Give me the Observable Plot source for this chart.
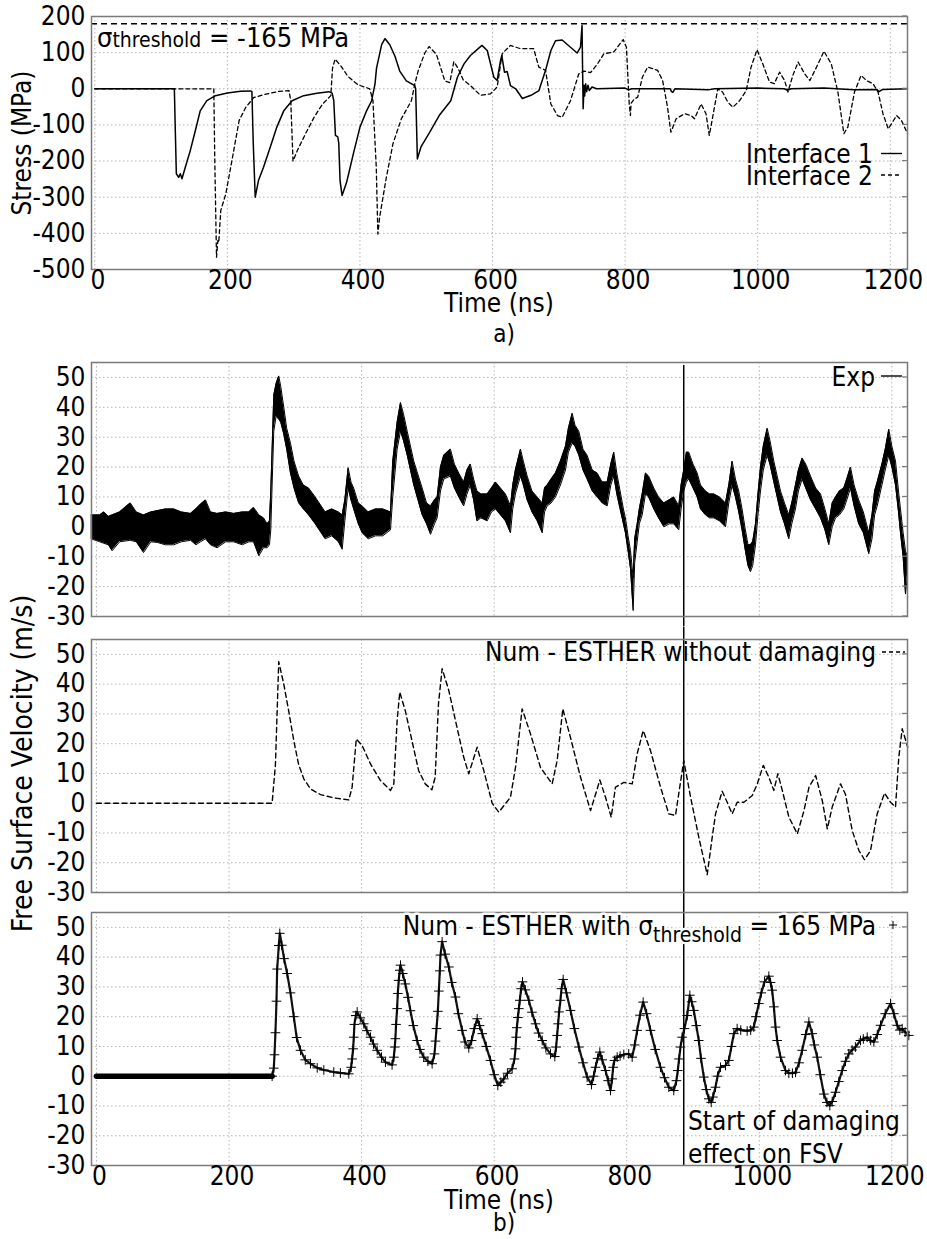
<!DOCTYPE html>
<html><head><meta charset="utf-8">
<script src="https://cdn.jsdelivr.net/npm/d3@7"></script>
<script src="https://cdn.jsdelivr.net/npm/@observablehq/plot@0.6"></script>
<style>
body{margin:0;background:#fff}
#root{position:relative;width:927px;height:1239px;background:#fff;overflow:hidden}
#root svg{position:absolute;left:0;overflow:visible}
</style></head><body><div id="root"></div>
<script>
const FONT = '"DejaVu Sans Condensed","DejaVu Sans",sans-serif';

// ---------- data ----------
const timeTicks = [0, 200, 400, 600, 800, 1000, 1200];
const stressTicks = [-500, -400, -300, -200, -100, 0, 100, 200];
const fsvTicks = [-30, -20, -10, 0, 10, 20, 30, 40, 50];
const thresholdLine = 180;      // MPa, dashed reference at top of panel a
const damageStart = 886;        // ns, vertical line in panel b

// Interface 1 stress [t (ns), MPa]
const interface1 = [[0,0],[120,0],[121.5,-120],[123,-235],[126.5,-245],[129,-235],[131.5,-249],[136.5,-217],[144,-171],[151.6,-116],[159,-61],[169,-33],[182,-19],[200,-11.5],[220,-7],[235,-6],[237,-8],[239,-150],[242,-300],[247,-253],[254.5,-217],[264.6,-162],[274.6,-106],[285,-61],[297.6,-33],[315,-19],[335,-12.5],[353,-8],[358,-12],[360.5,-33],[363,-129],[366.5,-133],[368,-150],[370,-255],[373,-295],[380,-258],[390,-180],[400,-106],[410,-61],[417.6,-33],[422.6,12],[425,57],[432.7,122],[437.7,139],[445,122],[452.8,90],[460,49],[470,22],[482.6,9],[484,0],[486.6,-194],[492,-161],[504,-124],[519.5,-74],[537,-33],[547,32],[557,69],[566.6,92],[584,120],[592,106],[602,32],[607,23],[612,78],[614,92],[618,46],[622,48],[627,9],[635,0],[645,-27],[658,-18],[670,-5],[680,51],[688,106],[695,133],[705,135],[717.6,115],[727.6,99],[732.7,115],[735,175],[735.8,60],[736.7,-55],[738,10],[739,-20],[740.5,14],[742,-8],[744,10],[746,-5],[750,5],[757,0],[800,2],[805,-3],[810,0],[868,0],[870,-8],[872,-10],[875,0],[925,-3],[935,0],[1000,2],[1040,0],[1045,-4],[1050,0],[1100,2],[1145,-3],[1180,-2],[1183,-8],[1188,-2],[1226,0]];

// Interface 2 stress [t (ns), MPa]
const interface2 = [[0,0],[179.5,0],[181,-200],[183.6,-466],[185.6,-420],[187,-425],[190,-337],[197.6,-291],[207.7,-190],[217.7,-88],[227.8,-51],[240,-24],[258,-15],[278,-7],[293,-5],[295.6,-33],[299,-200],[305.7,-170],[318,-124],[331,-78],[343.6,-42],[356,-19],[358.6,57],[362.5,82],[371.7,62],[381.8,34],[397,11],[414.7,0],[419.6,-33],[424.6,-217],[427,-402],[429.7,-355],[439.8,-245],[449.8,-152],[462.4,-83],[477.6,-33],[482.6,12],[487.7,49],[497.8,99],[504.3,117],[515.4,95],[528,22],[535.5,17],[541.6,75],[548,57],[555.6,25],[566.6,9],[581.7,-18],[596.8,-14],[607,5],[614.5,97],[627,120],[642,111],[662,111],[669.8,60],[680,51],[688,-42],[698,-74],[705,-79],[717.6,-33],[730,41],[737.8,49],[748,45],[758,68],[768,97],[783,102],[797,136],[802,115],[806.2,-42],[808,-74],[809,-40],[814,-28],[819,-23],[826,32],[834,60],[849,51],[856.6,23],[864,-51],[869,-120],[877,-83],[889.6,-69],[899.6,-74],[904.6,-83],[914.7,-42],[922,-69],[927,-129],[932,-79],[939.8,0],[947,-9],[955,-37],[962.6,-51],[972.7,-33],[982.7,-5],[990,60],[999,108],[1007.7,69],[1017.7,19],[1025,14],[1033,46],[1040.6,23],[1045.6,-9],[1053,37],[1061,74],[1071,41],[1078.8,23],[1088.8,60],[1100,104],[1111,69],[1121,-9],[1130,-124],[1136,-106],[1146,-9],[1156,37],[1164,23],[1174,14],[1181.6,-9],[1189,-69],[1197,-111],[1209.6,-74],[1217,-88],[1226,-124]];

// Experimental FSV noise envelope [t (ns), low, high] (m/s)
const expEnvelope = [[-8,-4,4],[5,-5,4],[11,-5.5,5],[18,-6,3.5],[23.6,-8,4],[35,-5,5],[51,-4.5,8],[60,-5,5],[71,-8.6,4],[82,-5,5],[91.5,-5.2,5.4],[104,-6,6],[116.6,-6,6],[128,-5,5],[142,-4.5,4.5],[150,-6,6],[157,-5,7.6],[164.5,-4,9],[172,-6,5],[182,-7,4.5],[195,-5,5],[207,-5,4.5],[220,-6,5],[230,-5,5],[237,-5,6.5],[245,-9.7,4],[252,-7,3],[257.5,-7,1],[261,-6,2],[263,-1,12],[265,14,26],[267.5,32,44],[271,37,48],[275,36,50.5],[278,35,47],[282.6,31,40],[287,26,33],[292.7,18,28],[298,13,22],[305,8,17],[312,6,14],[320,4,13],[330,1,10],[345,-4,5],[355,-3,6],[365,-5,5],[370.7,-7.5,4],[374.7,2,9],[379.7,13,19.8],[384,9,15],[388,6,13],[395,1,8],[400.8,-2,7],[410,-4,5],[421,-3,6],[432,-3,6],[443.6,-1,5],[447,10,22],[453.6,26,35],[458.7,32,41.6],[463,29,38],[468.8,24,32],[478.7,14,22],[491.4,4,13],[498,1,8],[504,-2.5,7],[510,1,9],[514,3,10],[519,12,20],[524,16,24],[534,17,26],[540,13,21],[546.6,10,18],[554,7,15],[559,11,19],[564,14,21],[569,9,16],[574,2,12],[580,3,11],[589.5,2,11],[596,5,13],[602,6,15],[609.5,4,13],[617,2,11],[624.6,-2,7],[628,6,14],[632,11,19],[639.7,17,26],[644,14,22],[649.8,9,17],[657,5,12],[664.9,2,10],[672.5,-2,8],[676,5,13],[680,7,14],[686,8,16],[692.5,10,18],[700,14,22],[707.6,19,27],[712,25,33],[717.7,28,38],[722,27,34],[727.7,24,32],[734,19,26],[740.2,16,24],[748,12,19],[755.4,10,18],[763,8,15],[770.5,7,15],[776,14,21],[780.5,17,25],[785,11,18],[790,6,12],[795,1,6],[798,-2,3],[802,-8,-3],[805.7,-14,-8],[809.7,-28,-17],[812,-12,-4],[815.8,-5,1],[819,1,6],[823.3,4,11],[828.3,11,18],[833,10,17],[840.8,6,13],[848,3,10],[856,0,8],[864,1,9],[871,1,10],[878.5,-1,7],[882,6,14],[886,12,19],[890,15,25],[893.6,16,25],[900,13,21],[906.3,10,18],[911.3,6,14],[918.8,4,12],[925,3,11],[931.4,3,11],[940,2,10],[949,0,8],[954,8,14],[959,14,22],[964,10,16],[969,5,12],[974,-1,6],[979,-8,-1],[983,-13,-6],[986.7,-15,-6],[990,-13,-5],[994.3,-6,1],[998,4,11],[1001.8,12,20],[1006,19,27],[1011.9,24,33],[1016,21,29],[1021.9,15,22],[1027,10,17],[1032,5,12],[1038,1,8],[1044.5,-4,4],[1049,1,8],[1054.6,6,14],[1059,12,19],[1064.7,16,23],[1070,13,21],[1077.3,9,17],[1085,6,13],[1092.4,3,11],[1099,-1,6],[1104.9,-6,1],[1110,0,8],[1115,3,10],[1121,4,12],[1127.5,6,13],[1132,9,16],[1137.6,13,20],[1143,7,14],[1150,1,9],[1157,-2,5],[1165.2,-9,-2],[1170,-4,4],[1174,4,12],[1177.9,7,15],[1185,14,21],[1190,19,26],[1195.4,24,32.7],[1200,20,27],[1205.5,14,22],[1210,5,12],[1213,-2,6],[1217,-10,-2],[1220.6,-22.5,-8],[1223.6,-16,-10]];

// Num - ESTHER without damaging [t (ns), m/s]
const numNoDamage = [[0,0],[265,0],[270,13],[275,47.5],[282.6,40],[290,31],[297.7,21],[305,13],[312.8,8.2],[322.9,4.8],[338,2.9],[358,1.8],[380.7,1.1],[385.7,5.4],[392,21.6],[400.8,19.4],[413.4,13.2],[428.5,7.6],[443.6,4.3],[448.6,6.5],[453.6,27.8],[457.6,37.3],[466,31],[476,21],[486,11],[496,6.5],[506,4.5],[511,8.7],[516,33.4],[521.5,45.2],[531.5,37.9],[541.6,27.8],[554,15.5],[561.7,9.9],[574.3,18.8],[584.3,11],[597,0],[607,-3],[624.6,2],[632.2,12],[642.2,31.7],[654.8,23.3],[669.9,12],[687.5,6.5],[695,14.3],[703.6,31.7],[715.2,22],[730.3,8.7],[745.4,-2.5],[753,3],[759.4,7.8],[768,2],[776.6,-4.7],[783,5.4],[795.6,7],[808.3,6.5],[815.8,16.6],[824.8,24.4],[835.8,17.7],[851,5.4],[863.5,-3.6],[873.6,-4.1],[880,5.4],[886.1,14.3],[896.2,2.2],[908.7,-11.4],[921.4,-24],[929,-11.4],[934,-3.6],[944,4],[951.6,0.3],[959,-3.6],[966.7,0.3],[976.7,0.3],[989.4,2.6],[997,6.5],[1006,12.7],[1014.5,8.7],[1022,4.3],[1028,9.9],[1034.7,4.3],[1044.7,-4.7],[1057.4,-10.3],[1067.4,-2.5],[1075,5.4],[1085,9.3],[1095,0.9],[1102.6,-8.6],[1110,-1.3],[1122.5,6.5],[1130,3],[1140.2,-9.2],[1150.3,-15.9],[1158.7,-19],[1167.8,-15.9],[1177.8,-3.6],[1189,3.4],[1198,0.3],[1205.5,-1.3],[1210.5,15.5],[1215.6,25],[1224,18.8]];

// Num - ESTHER with threshold: initial flat part and the marker series [t (ns), m/s]
const numDamageFlat = [[0,0],[265,0]];
const numDamage = [[265,0],[267.5,2.7],[268.6,7.2],[270,14.6],[271.6,25.2],[272.6,36],[275.1,43.9],[276.6,48],[279.6,44],[283,39.5],[287.7,34.5],[292.7,28],[297.7,20],[302,13],[307.8,8.7],[315,5.5],[322.9,4.2],[333,2.8],[343,2.1],[358,1.4],[368,1.1],[380.7,0.8],[384.2,3],[385.7,5.8],[387.2,9.2],[388.2,13.1],[389.2,17.4],[391.2,20.4],[393.3,21.6],[398,19.6],[403.3,17.6],[408,15.3],[413.4,13.1],[418,10.8],[423.5,8.7],[430,6.4],[436,4.7],[446,3.8],[448.6,6.4],[450,9.8],[451,12.6],[452,17.4],[453.6,22.7],[454.6,27.8],[456,32.2],[457.6,35.6],[458.7,37.3],[462,34.5],[466,31],[470,26.5],[473.7,22],[478,17],[483.7,12],[488,9],[493.8,6.4],[500,5],[506.4,4.2],[510,7.5],[511.5,11.8],[513,16],[515,21.8],[516.5,28.6],[518,35.4],[519,40.7],[521.5,45.2],[526,41],[531.6,36.7],[536,31.5],[541.6,26.6],[546,21],[551.7,15.4],[556,11.5],[561.7,9.5],[566,12],[570,16],[574.4,19.3],[578,17],[582,14.3],[588,10],[594.4,5.3],[600,0.5],[605.5,-3.1],[610,-2],[614.5,-0.9],[620,1],[627.1,2.5],[630.7,5.8],[632.2,9.2],[633.2,13.1],[634.2,16.3],[635.7,19.7],[637.2,22.7],[638.7,25.5],[640.7,29.4],[642.7,31.7],[647,29],[652.3,25.5],[657,21.5],[662.4,17.6],[667,14.5],[672.5,12],[678,9.5],[685,7.5],[691.5,6.6],[693.5,9.8],[695,13.7],[696.5,17.6],[698,21.6],[700,25.5],[701.6,29.4],[704.1,32.5],[709,28],[715.2,22.1],[721,16],[727.8,9.8],[734,4.5],[740.3,-0.3],[746.8,-2.8],[750,0],[752.9,3],[756,6],[759.4,8.1],[763,5.5],[768,1.9],[772,-1.5],[775.5,-4.8],[778,-0.9],[779.5,3],[781.5,5.3],[785.6,6.4],[790,6.8],[795.6,7.3],[803,7.5],[808.2,6.4],[812,10.5],[815.8,15.4],[820,20.5],[824.8,24.9],[830,21],[835.8,15.4],[843,9],[850.9,3],[857,-0.5],[863.5,-3.7],[871,-4.8],[875,-1.5],[877,1.9],[879,5.8],[881.1,9.8],[883.6,13.1],[887.1,16],[891.2,20.4],[895.2,27.2],[898,25],[901.2,22.1],[905,17],[908.7,12],[912,6],[916.3,-0.3],[920,-4.5],[923.8,-7.6],[927.4,-8.8],[930,-7],[933.9,-3.7],[937,0],[941.5,3],[949,3.6],[954,5.3],[958,10],[961.6,14.3],[966.6,16],[972,15.5],[981.7,15.2],[987,15.5],[991.7,16.5],[995,20],[999.3,24.4],[1003,28],[1007.8,31.7],[1014.4,33.6],[1017,31.5],[1019.4,28.9],[1022,23.3],[1024.5,16.5],[1027,12],[1032,6.4],[1039.6,1.9],[1044.6,1],[1050,1],[1054.7,1.3],[1060,4.5],[1064.7,8.7],[1070,14],[1074.8,18.2],[1079.8,14.3],[1083,10.5],[1087.4,6.4],[1092,0.5],[1097.4,-6],[1102,-8.8],[1106.4,-9.9],[1110,-8.5],[1115,-5.4],[1120,-1.8],[1125,1.9],[1130,5],[1135,7.5],[1140,8.8],[1145,9.8],[1152.7,12],[1157,12.5],[1162.8,13.1],[1168,12],[1172.8,11.5],[1178,14],[1182.9,17.1],[1190,21],[1198,24.4],[1203,21],[1208,17.1],[1212,15.5],[1215.6,16],[1220,14.8],[1225.6,13.7]];

// ---------- helpers ----------
const root = document.getElementById("root");
const pairs = a => a.map(([t, v]) => ({t, v}));

function panel(o) {
  const marks = [
    Plot.gridX(timeTicks, {stroke: "#b4b4b4", strokeOpacity: 1, strokeDasharray: "1.5,2.5"}),
    Plot.gridY(o.yTicks, {stroke: "#b4b4b4", strokeOpacity: 1, strokeDasharray: "1.5,2.5"}),
    ...o.marks,
    Plot.frame({stroke: "#7a7a7a", strokeWidth: 1.5}),
    Plot.axisY(o.yTicks, {tickSize: 0, tickPadding: 6, label: null, fontSize: 26, tickFormat: d => String(d)})
  ];
  if (o.showX) marks.push(Plot.axisX(timeTicks, {tickSize: 0, tickPadding: 1, dx: 3, label: null, fontSize: 26, tickFormat: d => String(d)}));
  const svg = Plot.plot({
    width: 927, height: o.height,
    marginLeft: 91, marginRight: 20, marginTop: o.mt, marginBottom: o.mb,
    style: {fontFamily: FONT, fontSize: "26px", background: "transparent", color: "black", overflow: "visible"},
    x: {domain: o.xDomain, axis: o.showX ? undefined : null},
    y: {domain: o.yDomain},
    marks
  });
  svg.style.top = o.top + "px";
  root.appendChild(svg);
  // inward tick marks on the right frame edge
  const g = d3.select(svg);
  o.yTicks.forEach(v => {
    const y = o.mt + (o.yDomain[1] - v) / (o.yDomain[1] - o.yDomain[0]) * (o.height - o.mt - o.mb);
    g.append("line").attr("x1", 907 - 5).attr("x2", 907).attr("y1", y).attr("y2", y)
      .attr("stroke", "#7a7a7a").attr("stroke-width", 1.2);
  });
  return svg;
}

function text(svg, top, x, y, parts, opt = {}) {
  const t = d3.select(svg).append("text")
    .attr("x", x).attr("y", y - top)
    .attr("text-anchor", opt.anchor || "start")
    .attr("fill", "black")
    .style("font-family", FONT);
  if (opt.central) t.attr("dominant-baseline", "central");
  if (opt.rotate) t.attr("transform", `rotate(${opt.rotate},${x},${y - top})`);
  if (opt.halo) t.attr("stroke", "white").attr("stroke-width", 5).attr("paint-order", "stroke").attr("stroke-linejoin", "round");
  parts.forEach(p => {
    const s = t.append("tspan").attr("font-size", p.size || 26).text(p.s);
    if (p.dy) s.attr("dy", p.dy);
  });
  return t;
}
function sample(svg, top, x1, x2, y, dash) {
  const l = d3.select(svg).append("line").attr("x1", x1).attr("x2", x2)
    .attr("y1", y - top).attr("y2", y - top).attr("stroke", "black").attr("stroke-width", 1.4);
  if (dash) l.attr("stroke-dasharray", dash);
}

// ---------- panel a ----------
const aTop = 0;
const svgA = panel({
  top: aTop, height: 320, mt: 16, mb: 51,
  xDomain: [-5, 1226], yDomain: [-500, 200], yTicks: stressTicks, showX: true,
  marks: [
    Plot.ruleY([thresholdLine], {stroke: "black", strokeWidth: 1.3, strokeDasharray: "6,4"}),
    Plot.line(pairs(interface2), {x: "t", y: "v", stroke: "black", strokeWidth: 1.3, strokeDasharray: "4,3"}),
    Plot.line(pairs(interface1), {x: "t", y: "v", stroke: "black", strokeWidth: 1.5})
  ]
});
text(svgA, aTop, 22, 143, [{s: "Stress (MPa)"}], {anchor: "middle", central: true, rotate: -90});
text(svgA, aTop, 499, 303, [{s: "Time (ns)"}], {anchor: "middle", central: true});
text(svgA, aTop, 97, 47, [{s: "σ", size: 27}, {s: "threshold", size: 21}, {s: " = -165 MPa", size: 27}]);
text(svgA, aTop, 873, 163, [{s: "Interface 1"}], {anchor: "end"});
text(svgA, aTop, 873, 185, [{s: "Interface 2"}], {anchor: "end"});
sample(svgA, aTop, 881, 902, 153.5);
sample(svgA, aTop, 881, 902, 175, "4,3");

// ---------- panel b ----------
const bX = [-7.5, 1223.6];
const fsvY = [-30, 55];
const expData = expEnvelope.map(([t, lo, hi]) => ({t, lo, hi}));

const b1Top = 330;
const svgB1 = panel({
  top: b1Top, height: 297, mt: 32, mb: 11, xDomain: bX, yDomain: fsvY, yTicks: fsvTicks, showX: false,
  marks: [
    Plot.areaY(expData, {x: "t", y1: "lo", y2: "hi", fill: "black"}),
    Plot.line(expData, {x: "t", y: "lo", stroke: "black", strokeWidth: 1}),
    Plot.line(expData, {x: "t", y: "hi", stroke: "black", strokeWidth: 1}),
    Plot.ruleX([damageStart], {x: d => d, y1: 54, y2: -33.5, stroke: "black", strokeWidth: 1.5})
  ]
});
text(svgB1, b1Top, 875, 386, [{s: "Exp"}], {anchor: "end"});
sample(svgB1, b1Top, 881, 902, 376);

const b2Top = 627;
const svgB2 = panel({
  top: b2Top, height: 275, mt: 12, mb: 10, xDomain: bX, yDomain: fsvY, yTicks: fsvTicks, showX: false,
  marks: [
    Plot.line(pairs(numNoDamage), {x: "t", y: "v", stroke: "black", strokeWidth: 1.4, strokeDasharray: "5,3.5"}),
    Plot.ruleX([damageStart], {x: d => d, y1: -33.4, y2: 59, stroke: "black", strokeWidth: 1.5})
  ]
});
text(svgB2, b2Top, 876, 661, [{s: "Num - ESTHER without damaging"}], {anchor: "end"});
sample(svgB2, b2Top, 882, 905, 652, "4,3");

const b3Top = 902;
const svgB3 = panel({
  top: b3Top, height: 337, mt: 10, mb: 74, xDomain: bX, yDomain: fsvY, yTicks: fsvTicks, showX: true,
  marks: [
    Plot.ruleX([damageStart], {x: d => d, y1: -30, y2: 58.4, stroke: "black", strokeWidth: 1.5}),
    Plot.line(pairs(numDamageFlat), {x: "t", y: "v", stroke: "black", strokeWidth: 5.5}),
    Plot.line(pairs(numDamage), {x: "t", y: "v", stroke: "#111", strokeWidth: 2.2}),
    Plot.dot(pairs(numDamage), {x: "t", y: "v", symbol: "plus", r: 3.2, stroke: "black", strokeWidth: 1})
  ]
});
text(svgB3, b3Top, 876, 935, [{s: "Num - ESTHER with σ"}, {s: "threshold", size: 21, dy: 7}, {s: " = 165 MPa", size: 26, dy: -7}], {anchor: "end", halo: true});
d3.select(svgB3).append("path").attr("d", `M889,${925 - b3Top}h8M893,${921 - b3Top}v8`).attr("stroke", "black").attr("stroke-width", 1);
text(svgB3, b3Top, 688, 1130, [{s: "Start of damaging"}]);
text(svgB3, b3Top, 688, 1163, [{s: "effect on FSV"}]);
text(svgB3, b3Top, 499, 1200, [{s: "Time (ns)"}], {anchor: "middle", central: true});

// overlay: captions and shared y label for panel b
const ov = d3.select(root).append("svg").attr("width", 927).attr("height", 1239).style("top", "0px").style("pointer-events", "none");
ov.append("text").attr("x", 22).attr("y", 763.5).attr("text-anchor", "middle").attr("dominant-baseline", "central")
  .attr("transform", "rotate(-90,22,763.5)").attr("font-size", 28).style("font-family", FONT).text("Free Surface Velocity (m/s)");
ov.append("text").attr("x", 504).attr("y", 334).attr("text-anchor", "middle").attr("dominant-baseline", "central")
  .attr("font-size", 24).style("font-family", FONT).text("a)");
ov.append("text").attr("x", 504).attr("y", 1223).attr("text-anchor", "middle").attr("dominant-baseline", "central")
  .attr("font-size", 24).style("font-family", FONT).text("b)");
</script></body></html>
